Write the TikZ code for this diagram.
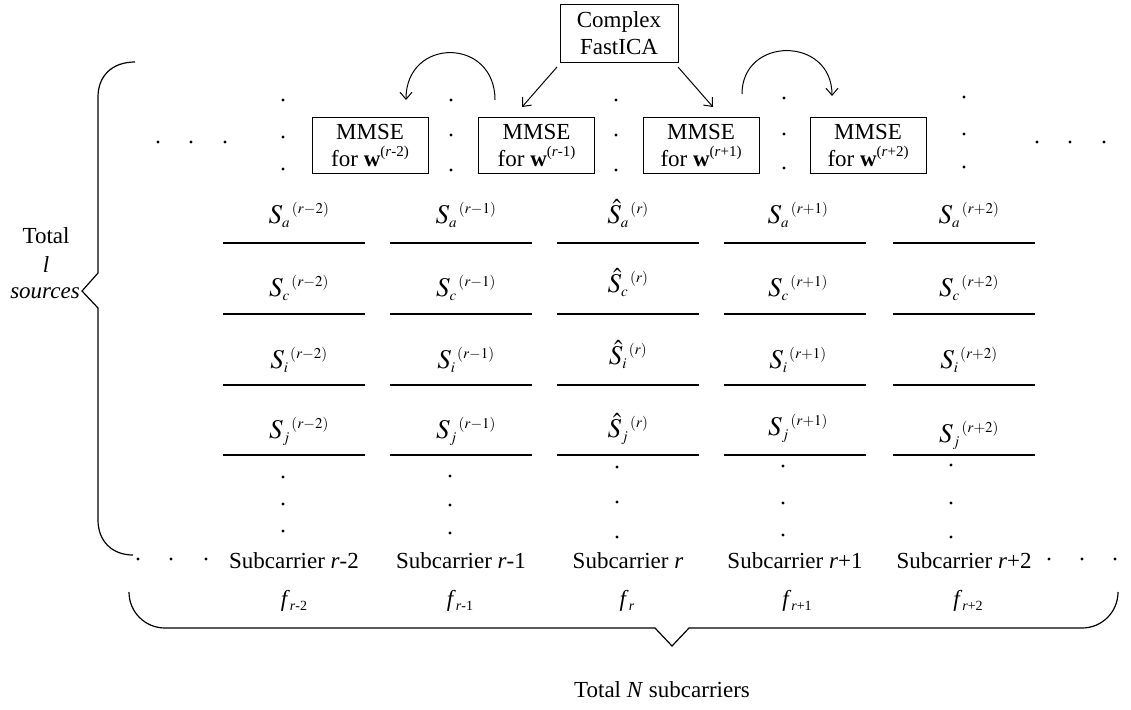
\documentclass[tikz,border=0pt]{standalone}
\usepackage{mathptmx}
\usepackage[no-math]{fontspec}
\setmainfont{Liberation Serif}
\usetikzlibrary{arrows.meta,calc}
\DeclareMathSizes{27}{27}{15}{12}
\newcommand\wsup[1]{\raisebox{0.42em}{\fontsize{15}{15}\selectfont(\textit{r}#1)}}
\newcommand\fsub[1]{\textit{f}\raisebox{-0.2em}{\fontsize{14}{14}\selectfont\textit{r}#1}}
\tikzset{
  every node/.style={font=\fontsize{23}{27}\selectfont, inner sep=0pt},
  box/.style={draw, line width=1pt, minimum width=116pt, minimum height=56pt, align=center},
  lab/.style={font=\fontsize{27}{30}\selectfont, anchor=base},
  sub/.style={anchor=base},
  rowline/.style={line width=1.4pt},
  arr/.style={line width=1pt, -{Straight Barb[length=7pt,width=12pt]}},
  brace/.style={line width=1.2pt},
}
\begin{document}
\begin{tikzpicture}[x=1pt,y=-1pt]
\useasboundingbox (0,0) rectangle (1131,709);

% top boxes
\node[box, minimum width=118pt, minimum height=57pt] (ica) at (619,33.5) {Complex\\FastICA};
\node[box] (m1) at (370,145) {MMSE\\for \textbf{w}\wsup{-2}};
\node[box] (m2) at (536.5,145) {MMSE\\for \textbf{w}\wsup{-1}};
\node[box] (m3) at (701,145) {MMSE\\for \textbf{w}\wsup{+1}};
\node[box] (m4) at (868,145) {MMSE\\for \textbf{w}\wsup{+2}};

% arrows from FastICA
\coordinate (a1s) at (557,67);
\coordinate (a1e) at (522,107);
\coordinate (a2s) at (678,67);
\coordinate (a2e) at (713,107);
\draw[arr] (a1s) -- (a1e);
\draw[arr] (a2s) -- (a2e);

% curved arrows
\coordinate (c1s) at (495,100);
\coordinate (c1e) at (406,100);
\coordinate (c2s) at (742,94);
\coordinate (c2e) at (832,96);
\draw[arr] (c1s) .. controls (495,37) and (406,37) .. (c1e);
\draw[arr] (c2s) .. controls (742,36) and (832,36) .. (c2e);

% dots near top boxes
\foreach \x/\ya/\yb/\yc in {283/100/137/169, 451/100/135/170, 616/100/135/170, 784/98/134/168, 964/97/134/167}{
  \fill (\x,\ya) circle[radius=1.6pt];
  \fill (\x,\yb) circle[radius=1.6pt];
  \fill (\x,\yc) circle[radius=1.6pt];
}
\foreach \x in {158,191,225,1037,1070,1104}{
  \fill (\x,142) circle[radius=1.6pt];
}

% row lines
\foreach \cx in {294,461,628,795,963.5}{
  \foreach \y in {243,314,385,455}{
    \draw[rowline] (\cx-71,\y) -- (\cx+71,\y);
  }
}

% source labels
\node[lab] (a1) at (299,223) {$S_a{}^{\,(r-2)}$};
\node[lab] (c1) at (299,296) {$S_c{}^{\,(r-2)}$};
\node[lab] (i1) at (299,368) {$S_i{}^{\,(r-2)}$};
\node[lab] (j1) at (299,438) {$S_j{}^{\,(r-2)}$};

\node[lab] (a2) at (466,223) {$S_a{}^{\,(r-1)}$};
\node[lab] (c2) at (466,296) {$S_c{}^{\,(r-1)}$};
\node[lab] (i2) at (466,368) {$S_i{}^{\,(r-1)}$};
\node[lab] (j2) at (466,438) {$S_j{}^{\,(r-1)}$};

\node[lab] (a3) at (628,223) {$\hat{S}_a{}^{\,(r)}$};
\node[lab] (c3) at (628,292) {$\hat{S}_c{}^{\,(r)}$};
\node[lab] (i3) at (628,364) {$\hat{S}_i{}^{\,(r)}$};
\node[lab] (j3) at (628,437) {$\hat{S}_j{}^{\,(r)}$};

\node[lab] (a4) at (798,223) {$S_a{}^{\,(r+1)}$};
\node[lab] (c4) at (798,296) {$S_c{}^{\,(r+1)}$};
\node[lab] (i4) at (798,368) {$S_i{}^{\,(r+1)}$};
\node[lab] (j4) at (798,435) {$S_j{}^{\,(r+1)}$};

\node[lab] (a5) at (969,223) {$S_a{}^{\,(r+2)}$};
\node[lab] (c5) at (969,296) {$S_c{}^{\,(r+2)}$};
\node[lab] (i5) at (969,368) {$S_i{}^{\,(r+2)}$};
\node[lab] (j5) at (969,442) {$S_j{}^{\,(r+2)}$};

% dots below rows
\foreach \x/\ya/\yb/\yc in {283/477/504/531, 450/476/505/533, 617/467/502/537, 783/466/503/535, 951/465/503/537}{
  \fill (\x,\ya) circle[radius=1.6pt];
  \fill (\x,\yb) circle[radius=1.6pt];
  \fill (\x,\yc) circle[radius=1.6pt];
}
\foreach \x in {138,171,206,1049,1082,1115}{
  \fill (\x,559) circle[radius=1.6pt];
}

% subcarrier labels
\node[sub] (s1) at (294,568) {Subcarrier \textit{r}-2};
\node[sub] (s2) at (461,568) {Subcarrier \textit{r}-1};
\node[sub] (s3) at (628,568) {Subcarrier \textit{r}};
\node[sub] (s4) at (795,568) {Subcarrier \textit{r}+1};
\node[sub] (s5) at (964,568) {Subcarrier \textit{r}+2};

\node[sub] (f1) at (294,606) {\fsub{-2}};
\node[sub] (f2) at (460,606) {\fsub{-1}};
\node[sub] (f3) at (627,606) {\fsub{}};
\node[sub] (f4) at (797,606) {\fsub{+1}};
\node[sub] (f5) at (968,606) {\fsub{+2}};

% left brace
\draw[brace] (135,62) .. controls (112,62) and (98,76) .. (98,97)
  -- (98,273) -- (82,291) -- (98,308) -- (98,520)
  .. controls (98,541) and (112,555) .. (133,555);
\node[sub] (t1) at (46,243) {Total};
\node[sub] (t2) at (46,272) {\textit{l}};
\node[sub] (t3) at (45,298) {\textit{sources}};

% bottom brace
\draw[brace] (129,592) .. controls (129,612) and (145,628) .. (165,628)
  -- (655,628) -- (672,646) -- (689,628) -- (1082,628)
  .. controls (1102,628) and (1118,612) .. (1118,592);
\node[sub] (tn) at (662,697) {Total \textit{N} subcarriers};
\end{tikzpicture}
\end{document}
